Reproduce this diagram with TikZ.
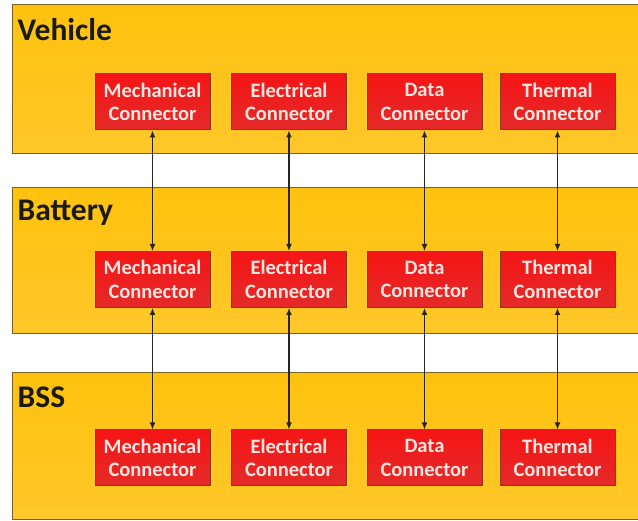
\documentclass[tikz,border=0pt]{standalone}
\usepackage{fontspec}
\setmainfont{Carlito}
\usetikzlibrary{arrows.meta}
\definecolor{panelfill}{HTML}{FFC20E}
\definecolor{panelfilllow}{HTML}{FFC72A}
\definecolor{paneldraw}{HTML}{7A6320}
\definecolor{boxtop}{HTML}{F51515}
\definecolor{boxbot}{HTML}{E42A2A}
\definecolor{boxdraw}{HTML}{8A3A1A}
\definecolor{boxtext}{HTML}{FFE6E0}
\definecolor{labeltext}{HTML}{1A1A10}
\tikzset{
  panel/.style={draw=paneldraw, line width=1pt, top color=panelfill, bottom color=panelfilllow},
  panellabel/.style={anchor=base west, inner sep=0pt, font=\bfseries\fontsize{31.5}{36}\selectfont, text=labeltext},
  connbox/.style={draw=boxdraw, line width=1pt, top color=boxtop, bottom color=boxbot,
    minimum width=115pt, minimum height=56pt, inner sep=0pt, align=center,
    font=\bfseries\fontsize{20.5}{23.5}\selectfont, text=boxtext},
  link/.style={draw=black!85, line width=1.2pt, {Latex[length=7pt,width=6pt]}-{Latex[length=7pt,width=6pt]}}
}
\begin{document}
\begin{tikzpicture}[x=1pt,y=-1pt]
\useasboundingbox (0,0) rectangle (638,521);
\fill[white] (0,0) rectangle (638,521);
% panels
\path[panel] (12,5) rectangle (650,154);
\path[panel] (12,188) rectangle (650,334);
\path[panel] (12,373) rectangle (650,520);
\node[panellabel] (lv) at (17.5,40.5) {Vehicle};
\node[panellabel] (lb) at (17.5,221) {Battery};
\node[panellabel] (ls) at (17.5,408) {BSS};
% boxes
\foreach \r/\y in {v/102, b/279.5, s/458} {
  \node[connbox] (\r1) at (152.5,\y) {Mechanical\\Connector};
  \node[connbox] (\r2) at (289,\y) {Electrical\\Connector};
  \node[connbox] (\r3) at (424.5,\y) {Data\\Connector};
  \node[connbox] (\r4) at (557.5,\y) {Thermal\\Connector};
}
\foreach \i in {1,2,3,4} {
  \draw[link] (v\i.south) -- (b\i.north);
  \draw[link] (b\i.south) -- (s\i.north);
}
\end{tikzpicture}
\end{document}
